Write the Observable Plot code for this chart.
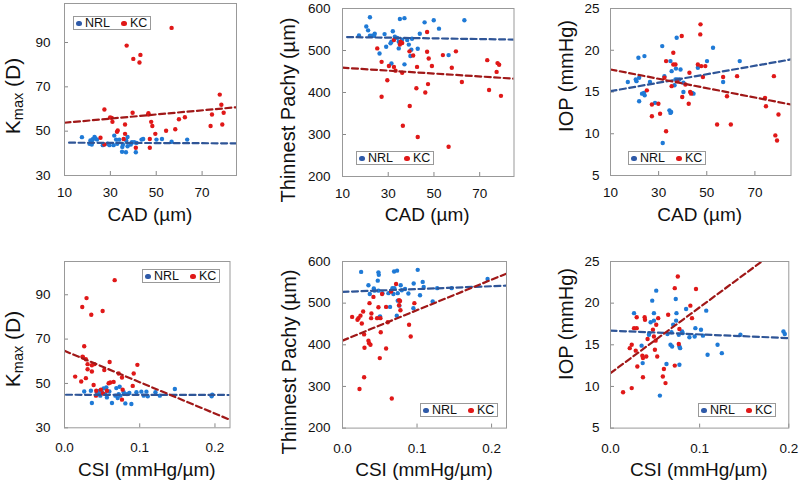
<!DOCTYPE html>
<html><head><meta charset="utf-8">
<script src="https://cdn.jsdelivr.net/npm/d3@7"></script>
<script src="https://cdn.jsdelivr.net/npm/@observablehq/plot@0.6"></script>
<style>
body{margin:0;background:#fff;font-family:"Liberation Sans",Arial,sans-serif;}
#root{position:relative;width:800px;height:484px;overflow:hidden;background:#fff;}
#root svg{position:absolute;}
.ytitle{position:absolute;transform:translate(-50%,-50%) rotate(-90deg);white-space:nowrap;font-size:20px;line-height:22px;color:#111;}
.ytitle.big{font-size:21px;}
.xtitle{position:absolute;transform:translate(-50%,-50%);white-space:nowrap;font-size:19px;color:#111;}
.ytitle sub{font-size:14.5px;vertical-align:-3px;line-height:0;}
.legend{position:absolute;box-sizing:border-box;border:1px solid #999;background:#fff;width:78px;height:14px;font-size:12.5px;color:#111;}
.legend .ld{position:absolute;top:3.5px;width:5.5px;height:5.5px;border-radius:50%;}
.legend .lt{position:absolute;top:-0.5px;line-height:13px;}
</style></head>
<body><div id="root"></div>
<script>
// ---- data (x, y) ----
const kmaxVsCadNRL = [[17.6,47.3],[21.3,45.8],[20.9,44.3],[21.9,45.2],[22.3,46.4],[23.1,47.4],[23.5,46.7],[24.2,46.2],[21.9,44.0],[26.7,43.7],[28.8,44.3],[29.6,43.7],[31.4,43.7],[31.7,48.0],[32.5,46.2],[33.9,46.2],[33.0,44.3],[35.5,44.0],[35.2,42.9],[35.1,40.7],[36.8,40.5],[37.5,47.4],[36.9,45.8],[37.5,43.2],[38.9,44.0],[39.4,45.0],[40.4,45.0],[41.1,40.5],[43.6,46.2],[44.3,46.5],[50.1,46.2],[52.5,46.5],[56.7,45.2],[63.5,46.2],[41.4,44.7]];
const kmaxVsCadKC = [[56.7,96.6],[37.1,88.6],[43.1,84.4],[40.0,82.6],[42.7,81.0],[77.7,66.5],[78.4,61.9],[79.4,58.3],[74.3,57.5],[73.7,52.3],[78.8,53.0],[62.5,56.3],[59.9,55.4],[58.3,50.9],[54.3,50.2],[27.4,59.8],[29.9,56.2],[30.6,56.0],[30.9,54.2],[39.7,58.3],[46.6,58.1],[46.5,57.5],[47.8,54.2],[48.3,52.3],[49.6,48.8],[36.4,53.0],[33.2,50.3],[32.9,49.7],[36.4,48.8],[35.8,46.5],[25.7,47.0],[27.4,44.0],[41.1,42.5],[47.2,42.5],[47.2,46.5]];
const pachyVsCadNRL = [[22.0,579],[35.1,575],[37.1,577],[45.9,567],[49.9,572],[63.3,572],[52.2,552],[43.8,540],[20.4,557],[21.2,548],[17.2,536],[22.0,535],[23.0,535],[24.1,540],[23.8,535],[28.4,539],[32.0,546],[32.9,533],[33.9,530],[31.0,517],[31.4,521],[34.6,521],[36.1,526],[38.3,525],[39.0,514],[40.4,528],[40.1,502],[39.7,487],[42.9,504],[34.6,505],[29.1,509],[26.2,493],[31.4,469],[37.1,467],[56.4,489]];
const pachyVsCadKC = [[47.0,544],[32.5,525],[35.1,514],[36.1,518],[35.4,521],[25.2,505],[39.3,498],[40.9,488],[47.0,497],[47.7,481],[53.9,489],[59.6,498],[49.1,463],[57.8,459],[73.3,477],[77.8,470],[78.5,466],[77.4,449],[27.1,473],[30.3,463],[32.5,461],[33.2,452],[36.1,447],[42.6,461],[29.6,429],[62.2,425],[42.3,410],[47.4,420],[46.2,400],[74.1,406],[79.3,392],[27.1,390],[39.4,368],[36.4,321],[42.9,294],[56.4,271]];
const iopVsCadNRL = [[31.5,20.5],[37.5,21.5],[52.6,20.3],[63.7,18.7],[50.1,18.7],[46.3,17.9],[21.6,19.1],[24.1,19.3],[34.9,18.7],[35.4,17.5],[37.2,17.8],[39.1,17.7],[32.4,16.9],[21.9,16.7],[20.5,16.5],[20.8,16.3],[17.2,16.2],[26.4,16.2],[37.0,16.5],[37.7,16.5],[38.6,16.5],[40.3,16.1],[36.6,15.8],[56.8,16.2],[23.1,14.8],[24.2,14.6],[23.9,14.9],[40.3,15.0],[43.9,14.9],[44.5,14.8],[21.9,13.9],[28.5,13.7],[34.5,12.8],[35.2,12.6],[34.9,12.5],[31.7,8.9]];
const iopVsCadKC = [[47.4,23.1],[47.3,21.9],[39.6,21.7],[36.1,19.7],[33.1,18.7],[36.1,18.3],[37.0,18.3],[46.3,18.3],[47.7,18.1],[49.4,18.1],[42.8,17.3],[48.4,16.8],[56.8,16.8],[62.6,16.9],[77.9,16.9],[32.4,16.7],[37.7,16.3],[41.1,15.9],[35.4,15.7],[25.1,15.2],[43.1,15.0],[43.5,14.8],[39.8,14.4],[58.4,14.5],[74.2,14.3],[74.6,13.3],[27.2,13.5],[29.9,13.6],[42.5,13.6],[27.2,12.1],[30.6,12.4],[79.8,12.3],[54.3,11.1],[60.0,11.1],[33.1,10.3],[78.5,9.8],[79.2,9.2]];
const kmaxVsCsiNRL = [[0.1467,47.5],[0.1964,44.9],[0.1956,44.2],[0.0262,46.4],[0.0351,46.7],[0.0364,41.2],[0.0467,46.7],[0.0498,46.0],[0.052,47.8],[0.0631,41.2],[0.0689,47.9],[0.0733,48.5],[0.072,45.2],[0.0676,44.5],[0.0707,43.4],[0.0787,46.0],[0.0809,41.0],[0.0889,40.7],[0.0862,45.7],[0.0956,46.0],[0.1022,46.3],[0.1053,44.5],[0.1089,46.3],[0.1107,44.2],[0.1209,46.0],[0.1267,44.5],[0.0596,46.4],[0.0542,45.2],[0.0453,45.2],[0.0564,43.7],[0.0742,44.5],[0.0831,45.2],[0.0476,44.5],[0.0556,48.2],[0.0431,46.0]];
const kmaxVsCsiKC = [[0.0667,96.6],[0.0293,88.5],[0.0236,84.5],[0.0507,82.7],[0.0356,81.0],[0.0262,66.8],[0.024,62.1],[0.0244,61.8],[0.0284,60.9],[0.0307,58.7],[0.0364,58.2],[0.0396,58.7],[0.0307,56.4],[0.0364,55.4],[0.0284,52.4],[0.0142,53.1],[0.0222,50.9],[0.0529,56.1],[0.06,59.7],[0.0609,50.4],[0.0587,50.1],[0.0653,50.7],[0.0764,52.7],[0.072,54.5],[0.092,54.5],[0.0969,58.4],[0.0387,49.3],[0.0484,47.2],[0.0422,46.7],[0.0564,46.7],[0.0773,47.2],[0.0907,48.9],[0.0764,42.7],[0.0418,44.5],[0.0511,45.5]];
const pachyVsCsiNRL = [[0.025,575],[0.0482,574],[0.0487,568],[0.0692,576],[0.0732,578],[0.1009,580],[0.0473,554],[0.1076,551],[0.1089,539],[0.0955,547],[0.0781,543],[0.0348,543],[0.042,535],[0.0429,530],[0.0366,522],[0.0482,530],[0.0536,524],[0.0616,524],[0.067,536],[0.0696,536],[0.0683,522],[0.0741,524],[0.0795,531],[0.0839,534],[0.0884,523],[0.104,519],[0.0741,506],[0.0763,494],[0.0951,488],[0.121,504],[0.0638,491],[0.0728,470],[0.0504,468],[0.0496,466],[0.1464,536],[0.1946,558],[0.127,536]];
const pachyVsCsiKC = [[0.0719,546],[0.0652,528],[0.0531,522],[0.0415,515],[0.0759,507],[0.0772,505],[0.0759,495],[0.0964,500],[0.0362,500],[0.0482,490],[0.0585,491],[0.0777,483],[0.0277,480],[0.0388,475],[0.0384,464],[0.0464,464],[0.0509,464],[0.0129,467],[0.0214,464],[0.0241,470],[0.0259,451],[0.0201,460],[0.0607,454],[0.0893,448],[0.0513,430],[0.029,425],[0.0915,420],[0.0348,410],[0.0357,404],[0.0375,400],[0.0295,393],[0.0585,391],[0.05,368],[0.029,322],[0.0228,294],[0.0661,271]];
const iopVsCsiNRL = [[0.0513,21.5],[0.0732,20.5],[0.0468,20.3],[0.0264,18.8],[0.0487,18.8],[0.074,18.8],[0.0848,19.3],[0.1074,19.1],[0.045,17.7],[0.0487,17.9],[0.0736,17.9],[0.0703,17.4],[0.0435,16.4],[0.0431,16.2],[0.0639,16.3],[0.0684,16.5],[0.0803,16.6],[0.081,16.4],[0.0766,16.2],[0.0952,17.0],[0.1015,16.8],[0.0885,15.9],[0.0944,16.0],[0.1037,16.1],[0.1457,16.2],[0.194,16.6],[0.1955,16.3],[0.0349,14.9],[0.0673,15.0],[0.0691,14.8],[0.0773,14.8],[0.0781,14.6],[0.1201,15.0],[0.1249,14.0],[0.1089,13.8],[0.0361,12.8],[0.0628,12.7],[0.0773,12.6],[0.0554,8.9]];
const iopVsCsiKC = [[0.0755,23.2],[0.0721,21.8],[0.0959,21.7],[0.0896,19.7],[0.0914,18.2],[0.0294,18.3],[0.0383,18.3],[0.0387,18.0],[0.0535,18.2],[0.0647,18.6],[0.0264,17.0],[0.0294,17.0],[0.0476,16.8],[0.0513,17.4],[0.0773,16.9],[0.0416,15.7],[0.0487,16.0],[0.0506,15.5],[0.0238,15.0],[0.0216,14.6],[0.0283,14.3],[0.0357,13.7],[0.0401,13.6],[0.0364,13.4],[0.0498,14.4],[0.0524,13.6],[0.0301,12.4],[0.0721,12.5],[0.0766,15.1],[0.0364,11.1],[0.0599,12.1],[0.0587,11.2],[0.0617,10.4],[0.0238,9.8],[0.0141,9.3]];

// trend lines (end points)
const fitKmaxCadNRL = [[12,44.8],[85,44.5]];
const fitKmaxCadKC = [[10,53.8],[85,60.8]];
const fitPachyCadNRL = [[12,532],[85,526]];
const fitPachyCadKC = [[10,459],[85,433]];
const fitIopCadNRL = [[10,15.1],[85,18.9]];
const fitIopCadKC = [[10,17.7],[85,13.5]];
const fitKmaxCsiNRL = [[0.002,44.9],[0.22,44.8]];
const fitKmaxCsiKC = [[0,64.7],[0.22,33.6]];
const fitPachyCsiNRL = [[0,527],[0.22,542]];
const fitPachyCsiKC = [[0,410],[0.22,571]];
const fitIopCsiNRL = [[0,16.7],[0.2,15.8]];
const fitIopCsiKC = [[0,11.6],[0.2,27.4]];

const cadTicks = [10,30,50,70];
const csiTicks = [0,0.1,0.2];
const kmaxTicks = [30,50,70,90];
const pachyTicks = [200,300,400,500,600];
const iopTicks = [5,10,15,20,25];

const COL = {nrl:"#1f7ad6", kc:"#e01818", nrlLine:"#2f5597", kcLine:"#a01818", nrlLegend:"#2f5aa8"};

const root = document.getElementById("root");

function panel(c){
  const ml=50, mr=8, mt=6, mb=30;
  const w=c.x1-c.x0, h=c.y1-c.y0;
  const px=d=>d[0], py=d=>d[1];
  const svg = Plot.plot({
    width:w+ml+mr, height:h+mt+mb,
    marginLeft:ml, marginRight:mr, marginTop:mt, marginBottom:mb,
    style:{fontFamily:"Liberation Sans, Arial, sans-serif", fontSize:"13.5px", background:"transparent", color:"#111", overflow:"visible"},
    x:{domain:c.xd, label:null},
    y:{domain:c.yd, label:null},
    marks:[
      Plot.axisY(c.yt,{tickSize:0, tickPadding:c.ypad, label:null, fontSize:13.5}),
      Plot.axisY(c.yt,{tickSize:4, dx:4, tickFormat:()=>"", label:null, stroke:"#888"}),
      Plot.axisX(c.xt,{tickSize:0, tickPadding:c.xpad, label:null, fontSize:13.5}),
      Plot.axisX(c.xt,{tickSize:4, dy:-4, tickFormat:()=>"", label:null, stroke:"#888"}),
      Plot.dot(c.nrl,{x:px, y:py, r:2.2, fill:COL.nrl, stroke:null}),
      Plot.dot(c.kc,{x:px, y:py, r:2.2, fill:COL.kc, stroke:null}),
      Plot.line(c.fn,{x:px, y:py, stroke:COL.nrlLine, strokeWidth:2.2, strokeDasharray:"6,3.5", clip:true}),
      Plot.line(c.fk,{x:px, y:py, stroke:COL.kcLine, strokeWidth:2.2, strokeDasharray:"6,3.5", clip:true}),
      Plot.frame({stroke:"#999"})
    ]
  });
  svg.style.left=(c.x0-ml)+"px";
  svg.style.top=(c.y0-mt)+"px";
  root.appendChild(svg);

  const yt=document.createElement("div");
  yt.className="ytitle"+(c.big?" big":""); yt.innerHTML=c.ylab;
  yt.style.left=c.ylx+"px"; yt.style.top=c.yly+"px";
  root.appendChild(yt);
  const xt=document.createElement("div");
  xt.className="xtitle"; xt.textContent=c.xlab;
  xt.style.left=((c.x0+c.x1)/2)+"px"; xt.style.top=c.xly+"px";
  root.appendChild(xt);

  const lg=document.createElement("div");
  lg.className="legend";
  lg.style.left=c.lg[0]+"px"; lg.style.top=c.lg[1]+"px";
  lg.innerHTML=`<span class="ld" style="left:2px;background:${COL.nrlLegend}"></span><span class="lt" style="left:11px">NRL</span>`+
    `<span class="ld" style="left:47px;background:${COL.kc}"></span><span class="lt" style="left:56px">KC</span>`;
  root.appendChild(lg);
}

const kmaxLab="K<sub>max</sub> (D)", pachyLab="Thinnest Pachy (µm)", iopLab="IOP (mmHg)";
const cadLab="CAD (µm)", csiLab="CSI (mmHg/µm)";

panel({x0:64,x1:236,y0:3,y1:175,xd:[10,85],yd:[30,107.6],xt:cadTicks,yt:kmaxTicks,ypad:14,xpad:12,big:true,
  nrl:kmaxVsCadNRL,kc:kmaxVsCadKC,fn:fitKmaxCadNRL,fk:fitKmaxCadKC,ylab:kmaxLab,ylx:13,yly:96,xlab:cadLab,xly:215,lg:[73,16]});
panel({x0:341.5,x1:513,y0:7.5,y1:175.5,xd:[10,85],yd:[200,600],xt:cadTicks,yt:pachyTicks,ypad:12,xpad:12,
  nrl:pachyVsCadNRL,kc:pachyVsCadKC,fn:fitPachyCadNRL,fk:fitPachyCadKC,ylab:pachyLab,ylx:288,yly:110,xlab:cadLab,xly:215,lg:[356,151]});
panel({x0:609.5,x1:790,y0:8,y1:175,xd:[10,85],yd:[5,25],xt:cadTicks,yt:iopTicks,ypad:11,xpad:12,
  nrl:iopVsCadNRL,kc:iopVsCadKC,fn:fitIopCadNRL,fk:fitIopCadKC,ylab:iopLab,ylx:566,yly:76,xlab:cadLab,xly:215,lg:[628,151]});
panel({x0:64,x1:229.5,y0:260.7,y1:427,xd:[0,0.22],yd:[30,105],xt:csiTicks,yt:kmaxTicks,ypad:14,xpad:15,big:true,
  nrl:kmaxVsCsiNRL,kc:kmaxVsCsiKC,fn:fitKmaxCsiNRL,fk:fitKmaxCsiKC,ylab:kmaxLab,ylx:13,yly:349,xlab:csiLab,xly:470,lg:[142,269]});
panel({x0:342,x1:506,y0:260.7,y1:427.3,xd:[0,0.22],yd:[200,600],xt:csiTicks,yt:pachyTicks,ypad:12,xpad:15,
  nrl:pachyVsCsiNRL,kc:pachyVsCsiKC,fn:fitPachyCsiNRL,fk:fitPachyCsiKC,ylab:pachyLab,ylx:289,yly:362,xlab:csiLab,xly:470,lg:[420,403]});
panel({x0:609.7,x1:788,y0:260.7,y1:427.3,xd:[0,0.2],yd:[5,25],xt:csiTicks,yt:iopTicks,ypad:11,xpad:15,
  nrl:iopVsCsiNRL,kc:iopVsCsiKC,fn:fitIopCsiNRL,fk:fitIopCsiKC,ylab:iopLab,ylx:566,yly:324,xlab:csiLab,xly:470,lg:[698,403]});
</script>
</body></html>
